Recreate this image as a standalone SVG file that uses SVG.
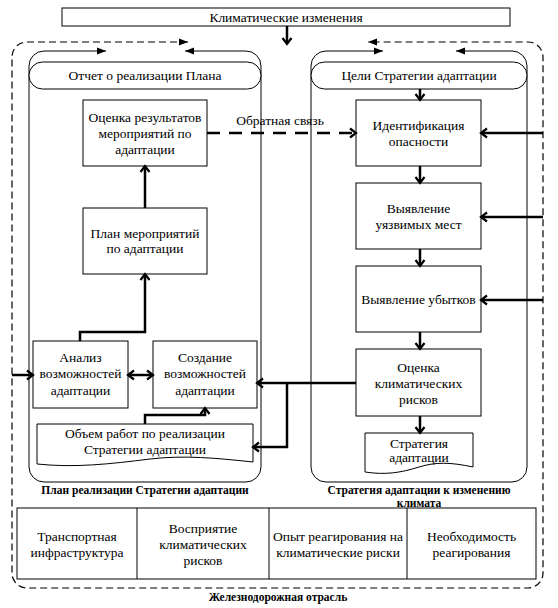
<svg xmlns="http://www.w3.org/2000/svg" width="558" height="608" viewBox="0 0 558 608" font-family="'Liberation Serif', 'Times New Roman', 'DejaVu Serif', serif">
<defs>
<style>
text{font-family:'Liberation Serif','Times New Roman','DejaVu Serif',serif;font-size:13.5px;fill:#000;text-anchor:middle}
.b{font-weight:bold;font-size:11.5px}
.box{fill:#fff;stroke:#000;stroke-width:1}
.pan{fill:none;stroke:#000;stroke-width:1}
.outer{fill:none;stroke:#000;stroke-width:1.2;stroke-dasharray:7,4}
.c{fill:none;stroke:#000;stroke-width:2.5}
.cd{fill:none;stroke:#000;stroke-width:2.5;stroke-dasharray:13,9}
</style>
<marker id="chev" markerUnits="userSpaceOnUse" markerWidth="12" markerHeight="12" viewBox="0 0 12 12" refX="10" refY="6" orient="auto-start-reverse"><path d="M4,1.5 L10,6 L4,10.5" fill="none" stroke="#000" stroke-width="2.2"/></marker>
<marker id="tri" markerUnits="userSpaceOnUse" markerWidth="9" markerHeight="8" viewBox="0 0 9 8" refX="9" refY="4" orient="auto-start-reverse"><path d="M0,0.5 L9,4 L0,7.5 z" fill="#000"/></marker>
</defs>
<rect width="558" height="608" fill="#fff"/>

<g id="outer">
<path class="outer" d="M188,42 H27 A15,15 0 0 0 12,57 V573 A15,15 0 0 0 27,588 H528 A15,15 0 0 0 543,573 V57 A15,15 0 0 0 528,42 H368" marker-start="url(#tri)" marker-end="url(#tri)"/>
<text class="b" x="278" y="601">Железнодорожная отрасль</text>
</g>

<g id="title">
<rect class="box" x="62" y="8" width="448" height="18"/>
<text x="286" y="21.5">Климатические изменения</text>
</g>

<g id="panel-left">
<path class="pan" d="M106,51 H44 A15,15 0 0 0 29,66 V467 A15,15 0 0 0 44,482 H246 A15,15 0 0 0 261,467 V66 A15,15 0 0 0 246,51 H185" marker-start="url(#tri)" marker-end="url(#tri)"/>
<rect class="box" x="29" y="62" width="232" height="27" rx="13.5"/>
<text x="145" y="80">Отчет о реализации Плана</text>
<text class="b" x="145" y="494">План реализации Стратегии адаптации</text>
</g>

<g id="panel-right">
<path class="pan" d="M383,51 H326 A15,15 0 0 0 311,66 V467 A15,15 0 0 0 326,482 H512 A15,15 0 0 0 527,467 V66 A15,15 0 0 0 512,51 H456" marker-start="url(#tri)" marker-end="url(#tri)"/>
<rect class="box" x="311" y="62" width="216" height="27" rx="13.5"/>
<text x="419" y="80">Цели Стратегии адаптации</text>
<text class="b" x="419" y="494">Стратегия адаптации к изменению</text>
<text class="b" x="419" y="507">климата</text>
</g>

<g id="n-ocenka-rez">
<rect class="box" x="83" y="100" width="124" height="66"/>
<text x="145" y="121.5">Оценка результатов</text>
<text x="145" y="137.5">мероприятий по</text>
<text x="145" y="153.5">адаптации</text>
</g>

<g id="n-plan">
<rect class="box" x="83" y="208" width="124" height="66"/>
<text x="145" y="237.5">План мероприятий</text>
<text x="145" y="253">по адаптации</text>
</g>

<g id="n-analiz">
<rect class="box" x="33" y="341" width="95" height="67"/>
<text x="80.5" y="361.5">Анализ</text>
<text x="80.5" y="378">возможностей</text>
<text x="80.5" y="394.5">адаптации</text>
</g>

<g id="n-sozdanie">
<rect class="box" x="153" y="341" width="104" height="67"/>
<text x="205" y="361.5">Создание</text>
<text x="205" y="378">возможностей</text>
<text x="205" y="394.5">адаптации</text>
</g>

<g id="n-obem">
<path class="box" d="M37,424 H253 V462 C215,458 185,455 150,459 C110,464 75,468 37,464 Z"/>
<text x="145" y="437.5">Объем работ по реализации</text>
<text x="145" y="453.5">Стратегии адаптации</text>
</g>

<g id="n-ident">
<rect class="box" x="356" y="100" width="125" height="66"/>
<text x="418.5" y="129.5">Идентификация</text>
<text x="418.5" y="145.5">опасности</text>
</g>

<g id="n-uyazv">
<rect class="box" x="356" y="183" width="125" height="66"/>
<text x="418.5" y="212.5">Выявление</text>
<text x="418.5" y="228.5">уязвимых мест</text>
</g>

<g id="n-ubytki">
<rect class="box" x="356" y="266" width="125" height="66"/>
<text x="418.5" y="303.5">Выявление убытков</text>
</g>

<g id="n-ocenka-risk">
<rect class="box" x="356" y="349" width="125" height="67"/>
<text x="418.5" y="371.5">Оценка</text>
<text x="418.5" y="387.5">климатических</text>
<text x="418.5" y="403.5">рисков</text>
</g>

<g id="n-strategy">
<path class="box" d="M365,433 H473 V467 C450,462 435,462 419,467 C400,473 385,475 365,472 Z"/>
<text x="419" y="447.5">Стратегия</text>
<text x="419" y="462">адаптации</text>
</g>

<g id="table">
<rect class="box" x="17" y="508" width="519" height="71"/>
<line x1="137" y1="508" x2="137" y2="579" stroke="#000"/>
<line x1="269" y1="508" x2="269" y2="579" stroke="#000"/>
<line x1="407" y1="508" x2="407" y2="579" stroke="#000"/>
<text x="77" y="540.5">Транспортная</text>
<text x="77" y="556.5">инфраструктура</text>
<text x="203" y="532.5">Восприятие</text>
<text x="203" y="548.5">климатических</text>
<text x="203" y="564.5">рисков</text>
<text x="338" y="540.5">Опыт реагирования на</text>
<text x="338" y="556.5">климатические риски</text>
<text x="471.5" y="540.5">Необходимость</text>
<text x="471.5" y="556.5">реагирования</text>
</g>

<g id="connectors">
<path class="c" d="M287,26 V44" marker-end="url(#chev)"/>
<path class="c" d="M420,89 V100" marker-end="url(#chev)"/>
<path class="c" d="M420,166 V183" marker-end="url(#chev)"/>
<path class="c" d="M420,249 V266" marker-end="url(#chev)"/>
<path class="c" d="M420,332 V349" marker-end="url(#chev)"/>
<path class="c" d="M420,416 V433" marker-end="url(#chev)"/>
<path class="c" d="M145,208 V166" marker-end="url(#chev)"/>
<path class="c" d="M80,341 V332 H145 V274" marker-end="url(#chev)"/>
<path class="c" d="M145,424 V415 H205 V408" marker-end="url(#chev)"/>
<path class="c" d="M128,375 H153" marker-start="url(#chev)" marker-end="url(#chev)"/>
<path class="c" d="M12,375 H33" marker-end="url(#chev)"/>
<path class="c" d="M543,133 H481" marker-end="url(#chev)"/>
<path class="c" d="M543,217 H481" marker-end="url(#chev)"/>
<path class="c" d="M543,300 H481" marker-end="url(#chev)"/>
<path class="c" d="M356,383 H257" marker-end="url(#chev)"/>
<path class="c" d="M287,383 V447 H253" marker-end="url(#chev)"/>
<path class="cd" d="M207,133 H356" marker-end="url(#chev)"/>
<text x="280" y="125">Обратная связь</text>
</g>
</svg>
